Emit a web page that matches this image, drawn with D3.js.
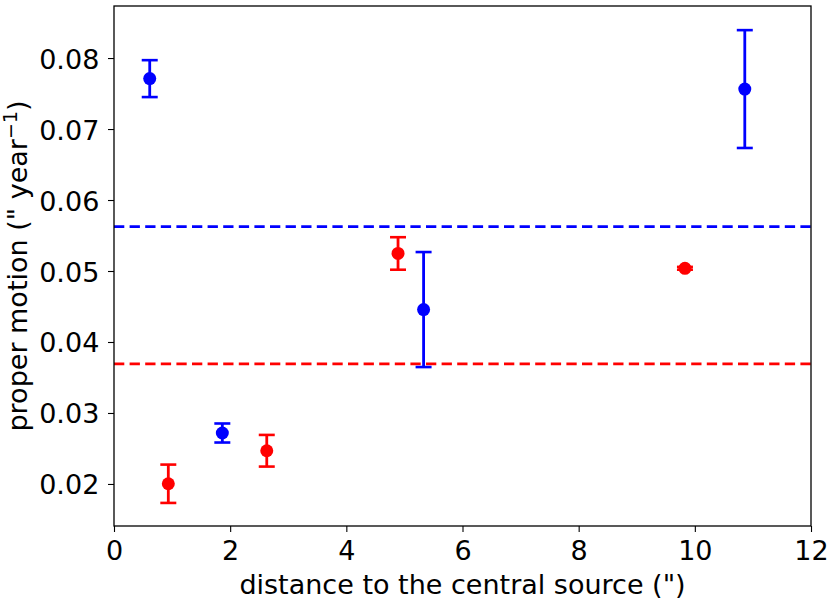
<!DOCTYPE html>
<html>
<head>
<meta charset="utf-8">
<script src="https://cdn.jsdelivr.net/npm/d3@7"></script>
<style>
  body { margin: 0; background: #fff; }
  svg text { font-family: "DejaVu Sans", sans-serif; fill: #000; }
</style>
</head>
<body>
<svg id="chart" width="830" height="601"></svg>
<script>
// Data
var blueX = [0.615, 1.865, 5.33, 10.86];
var blueY = [0.0771, 0.02718, 0.04457, 0.07563];
var blueErr = [0.0026, 0.00134, 0.0081, 0.0083];
var redX = [0.935, 2.63, 4.89, 9.83];
var redY = [0.02003, 0.02468, 0.05247, 0.05038];
var redErr = [0.0027, 0.00223, 0.00229, 0.0002];
var blueMean = 0.05625;
var redMean = 0.03693;
var xTicks = [0, 2, 4, 6, 8, 10, 12];
var yTicks = [0.02, 0.03, 0.04, 0.05, 0.06, 0.07, 0.08];

const svg = d3.select('#chart');
const margin = {top: 6, left: 114, right: 19, bottom: 75};
var width = 830 - margin.left - margin.right;
var height = 601 - margin.top - margin.bottom;
const fs = '27px';

const g = svg.append('g')
  .attr('transform', `translate(${margin.left}, ${margin.top})`);

const xscale = d3.scaleLinear().domain([0, 12]).range([0, width]);
const yscale = d3.scaleLinear().domain([0.01408, 0.08733]).range([height, 0]);

// axes
const xaxis = d3.axisBottom(xscale).tickValues(xTicks).tickSize(6).tickPadding(5)
  .tickFormat(d3.format('d'));
const yaxis = d3.axisLeft(yscale).tickValues(yTicks).tickSize(6).tickPadding(8.7)
  .tickFormat(d3.format('.2f'));

const gx = g.append('g').attr('transform', `translate(0,${height})`).call(xaxis);
const gy = g.append('g').call(yaxis);
[gx, gy].forEach(function(a) {
  a.select('.domain').remove();
  a.selectAll('line').attr('stroke', '#000').attr('stroke-width', 1.1);
  a.selectAll('text').style('font-size', fs);
});
gx.selectAll('text').attr('dy', null).attr('y', 34);
gy.selectAll('text').attr('dy', '10');

// mean lines
function meanLine(v, color) {
  g.append('line')
    .attr('x1', 0).attr('x2', width)
    .attr('y1', yscale(v)).attr('y2', yscale(v))
    .attr('stroke', color).attr('stroke-width', 2.8)
    .attr('stroke-dasharray', '10.3,5.3');
}
meanLine(blueMean, '#0000ff');
meanLine(redMean, '#ff0000');

// error bars and points
function series(xs, ys, errs, color) {
  var data = xs.map(function(x, i) { return {x: x, y: ys[i], e: errs[i]}; });
  var s = g.append('g');
  s.selectAll('.bar').data(data).enter().append('line')
    .attr('x1', d => xscale(d.x)).attr('x2', d => xscale(d.x))
    .attr('y1', d => yscale(d.y - d.e)).attr('y2', d => yscale(d.y + d.e))
    .attr('stroke', color).attr('stroke-width', 2.8);
  [-1, 1].forEach(function(sgn) {
    s.selectAll('.cap' + sgn).data(data).enter().append('line')
      .attr('x1', d => xscale(d.x) - 8).attr('x2', d => xscale(d.x) + 8)
      .attr('y1', d => yscale(d.y + sgn * d.e)).attr('y2', d => yscale(d.y + sgn * d.e))
      .attr('stroke', color).attr('stroke-width', 2.6);
  });
  s.selectAll('circle').data(data).enter().append('circle')
    .attr('cx', d => xscale(d.x)).attr('cy', d => yscale(d.y))
    .attr('r', 6.5).attr('fill', color);
}
series(blueX, blueY, blueErr, '#0000ff');
series(redX, redY, redErr, '#ff0000');

// frame
g.append('rect')
  .attr('width', width).attr('height', height)
  .attr('fill', 'none').attr('stroke', '#000').attr('stroke-width', 1.3);

// labels
svg.append('text')
  .attr('x', margin.left + width / 2).attr('y', 594)
  .attr('text-anchor', 'middle').style('font-size', fs)
  .text('distance to the central source (")');

const yl = svg.append('text')
  .attr('transform', `translate(27, ${margin.top + height / 2}) rotate(-90)`)
  .attr('text-anchor', 'middle').style('font-size', fs);
yl.append('tspan').text('proper motion (" year');
yl.append('tspan').attr('dy', -10).style('font-size', '19px').text('\u22121');
yl.append('tspan').attr('dy', 10).text(')');
</script>
</body>
</html>
